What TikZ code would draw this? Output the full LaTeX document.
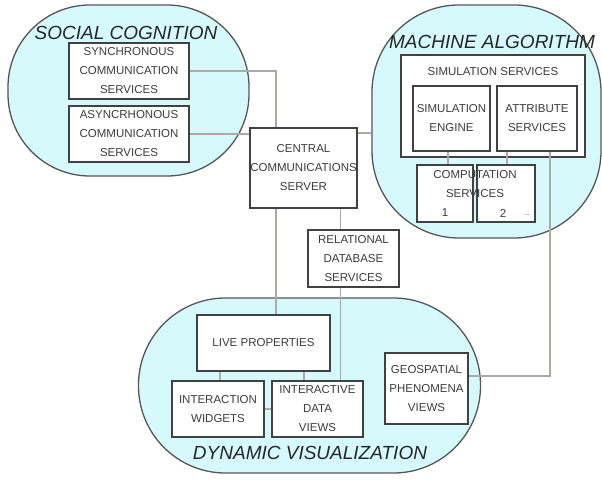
\documentclass[tikz,border=0pt]{standalone}
\usepackage{fontspec}
\setmainfont{Liberation Sans}
\definecolor{regionfill}{RGB}{214,250,252}
\definecolor{regionline}{RGB}{85,85,85}
\definecolor{boxline}{RGB}{65,65,65}
\definecolor{linkgray}{RGB}{172,170,165}
\definecolor{boxtext}{RGB}{60,60,60}
\tikzset{
  region/.style={draw=regionline, fill=regionfill, line width=1.3pt, inner sep=0pt},
  svcbox/.style={draw=boxline, fill=white, line width=1.8pt, inner sep=0pt, align=center,
    text=boxtext, font=\fontsize{11.5}{19}\selectfont},
  svclabel/.style={inner sep=0.75pt, align=center, text=boxtext, font=\fontsize{11.5}{19}\selectfont},
  title/.style={inner sep=0.75pt, text=black!85, font=\fontsize{19}{22}\selectfont\itshape},
  link/.style={draw=linkgray, line width=1.2pt},
}
\begin{document}
\begin{tikzpicture}[x=1pt,y=1pt,yscale=-1,xscale=1]
\useasboundingbox (0,0) rectangle (602,481);

%Shape: Rounded Rect (regions)
\node [region, minimum width=241, minimum height=171, rounded corners=82] (social) at (128.5,90.5) {};
\node [region, minimum width=229, minimum height=233, rounded corners=87] (machine) at (486.5,121.5) {};
\node [region, minimum width=342, minimum height=175, rounded corners=87] (dynamic) at (309.5,385.5) {};

%Shape: Rectangle (social cognition)
\node [svcbox, minimum width=120, minimum height=56] (sync) at (129,71) {SYNCHRONOUS\\COMMUNICATION\\SERVICES};
\node [svcbox, minimum width=120, minimum height=56] (async) at (129,134) {ASYNCRHONOUS\\COMMUNICATION\\SERVICES};

%Shape: Rectangle (server and database)
\node [svcbox, minimum width=107, minimum height=80] (central) at (303.5,168) {CENTRAL\\COMMUNICATIONS\\SERVER};
\node [svcbox, minimum width=91, minimum height=57] (relational) at (353.5,258.5) {RELATIONAL\\DATABASE\\SERVICES};

%Shape: Rectangle (machine algorithm)
\node [svcbox, minimum width=184, minimum height=102] (simservices) at (493,106) {};
\node [svcbox, minimum width=77, minimum height=65] (engine) at (451.5,118.5) {SIMULATION\\ENGINE};
\node [svcbox, minimum width=80, minimum height=65] (attribute) at (537,118.5) {ATTRIBUTE\\SERVICES};
\node [svcbox, minimum width=56, minimum height=57] (comp1) at (445,193.5) {};
\node [svcbox, minimum width=58, minimum height=57] (comp2) at (506,193.5) {};

%Shape: Rectangle (dynamic visualization)
\node [svcbox, minimum width=133, minimum height=56] (live) at (263.5,343) {LIVE PROPERTIES};
\node [svcbox, minimum width=92, minimum height=56] (widgets) at (218,409) {INTERACTION\\WIDGETS};
\node [svcbox, minimum width=91, minimum height=56] (dataviews) at (317.5,409) {INTERACTIVE\\DATA\\VIEWS};
\node [svcbox, minimum width=83, minimum height=71] (geo) at (426.5,388.5) {GEOSPATIAL\\PHENOMENA\\VIEWS};

%Straight Lines
\coordinate (trunk) at (276,0);
\coordinate (dbcol) at (340.7,0);
\coordinate (enginecol) at (448,0);
\coordinate (attrcol) at (507,0);
\coordinate (geocol) at (550,0);
\coordinate (livecolA) at (220,0);
\coordinate (livecolB) at (304,0);
\coordinate (machinerow) at (0,133);
\coordinate (georow) at (0,376);

\draw [link] (sync.east) -| (trunk |- central.north);
\draw [link] (async.east) -- (async.east -| central.west);
\draw [link] (central.south -| trunk) -- (live.north -| trunk);
\draw [link] (central.south -| dbcol) -- (relational.north -| dbcol);
\draw [link] (relational.south -| dbcol) -- (dataviews.north -| dbcol);
\draw [link] (central.east |- machinerow) -- (machine.west |- machinerow);
\draw [link] (engine.south -| enginecol) -- (comp1.north -| enginecol);
\draw [link] (attribute.south -| attrcol) -- (comp2.north -| attrcol);
\draw [link] (attribute.south -| geocol) -- (geocol |- georow) -- (geo.east |- georow);
\draw [link] (live.south -| livecolA) -- (widgets.north -| livecolA);
\draw [link] (live.south -| livecolB) -- (dataviews.north -| livecolB);
\draw [link] (widgets.east) -- (dataviews.west);

% Text Node
\node [svclabel] (simlabel) at (493,72) {SIMULATION SERVICES};
% Text Node
\node [svclabel] (complabel) at (475,184) {COMPUTATION\\SERVICES};
% Text Node
\node [svclabel] (compnum1) at (445,213) {1};
% Text Node
\node [svclabel] (compnum2) at (503,213) {2};
% Text Node
\node [svclabel, font=\fontsize{7}{8}\selectfont] (compmore) at (527,215) {...};
% Text Node
\node [title] (socialtitle) at (126,33) {SOCIAL COGNITION};
% Text Node
\node [title] (machinetitle) at (492,42) {MACHINE ALGORITHM};
% Text Node
\node [title] (dynamictitle) at (310,453) {DYNAMIC VISUALIZATION};

\end{tikzpicture}
\end{document}
